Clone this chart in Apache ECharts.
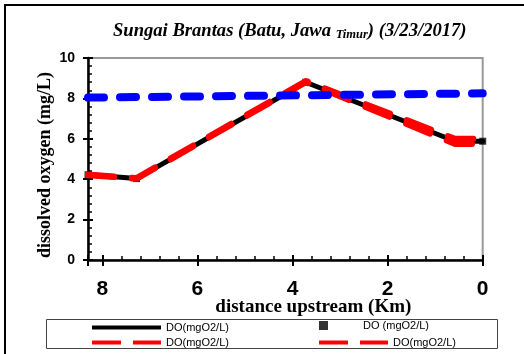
<!DOCTYPE html>
<html>
<head>
<meta charset="utf-8">
<style>html,body{margin:0;padding:0;background:#fff;}#c{width:524px;height:354px;}</style>
<script src="https://cdn.jsdelivr.net/npm/echarts@6/dist/echarts.min.js"></script>
</head>
<body>
<div id="c"></div>
<script>
// distance upstream (km) of each vertex
const distance = [8.3, 7.28, 3.72, 0.58, 0];
// DO values (mg/L)
const doBlack = [4.22, 4.03, 8.8, 5.88, 5.88];
const doRed1 = [4.23, 4.06, 8.86, 6.0, 6.0];
const doRed2 = [4.2, 4.02, 8.8, 5.74, 5.74];
const blueDist = [8.3, 0];
const blueVals = [8.04, 8.25];
const xTicks = [0, 2, 4, 6, 8];

const names = ['DO(mgO2/L)', 'DO (mgO2/L)', 'DO(mgO2/L) ', 'DO(mgO2/L)  '];
const pairs = (xs, ys) => xs.map((x, i) => [x, ys[i]]);

const chart = echarts.init(document.getElementById('c'));
const serif = "'Liberation Serif', 'Times New Roman', serif";
const sans = "'Liberation Sans', Arial, sans-serif";
const legendText = {fontFamily: sans, fontSize: 11, color: '#000'};
const solidIcon = 'path://M0,0L69,0L69,4L0,4Z';
const dashIcon = 'path://M0,0L29,0L29,4L0,4Z M41,0L69,0L69,4L41,4Z';
function mkLegend(name, left, top, extra) {
  return Object.assign({
    data: [name], left: left, top: top, padding: 0, itemWidth: 69, itemHeight: 4,
    textStyle: legendText, selectedMode: false, symbolKeepAspect: false
  }, extra);
}
const gridBox = {left: 88, right: 41.3, top: 58, bottom: 94};
chart.setOption({
  animation: false,
  title: {
    text: '{a|Sungai Brantas (Batu, Jawa }{b|Timur}{a|) (3/23/2017)}',
    left: 113, top: 22, padding: 0,
    textStyle: {
      rich: {
        a: {fontFamily: serif, fontSize: 18.6, fontWeight: 'bold', fontStyle: 'italic', color: '#000'},
        b: {fontFamily: serif, fontSize: 12.5, fontWeight: 'bold', fontStyle: 'italic', color: '#000', verticalAlign: 'bottom', padding: [4, 0, 0, 0]}
      }
    }
  },
  graphic: [
    {type: 'rect', shape: {x: 5, y: 5, width: 540, height: 380}, style: {fill: 'none', stroke: '#000', lineWidth: 2}, silent: true},
    {type: 'rect', shape: {x: 46.5, y: 319.5, width: 451, height: 29}, style: {fill: 'none', stroke: '#444', lineWidth: 1}, silent: true}
  ],
  legend: [
    mkLegend(names[0], 92, 322, {icon: solidIcon, itemStyle: {color: '#000'}}),
    mkLegend(names[1], 319, 320, {icon: 'path://M0,0L10,0L10,10L0,10Z', itemHeight: 9, symbolKeepAspect: true, itemStyle: {color: '#000'}}),
    mkLegend(names[2], 92, 337, {icon: dashIcon, itemStyle: {color: '#f00'}}),
    mkLegend(names[3], 319, 337, {icon: dashIcon, itemStyle: {color: '#f00'}})
  ],
  grid: [
    Object.assign({show: true, borderColor: '#999', borderWidth: 2, backgroundColor: '#fff'}, gridBox),
    Object.assign({show: false}, gridBox)
  ],
  xAxis: [
    {
      gridIndex: 0, type: 'value', inverse: true, min: 0, max: 8.3, interval: 2, position: 'bottom',
      axisLine: {show: true, onZero: false, lineStyle: {color: '#000', width: 2.5}},
      axisTick: {show: true, inside: false, length: 6, lineStyle: {color: '#000', width: 2}},
      splitLine: {show: false},
      axisLabel: {
        margin: 19, fontFamily: "'Liberation Sans Narrow', 'Liberation Sans', Arial, sans-serif",
        fontWeight: 'bold', fontSize: 21, color: '#000',
        customValues: xTicks
      },
      name: 'distance upstream (Km)', nameLocation: 'middle', nameGap: 38, nameMoveOverlap: false,
      nameTextStyle: {fontFamily: serif, fontWeight: 'bold', fontSize: 19, color: '#000', padding: [0, 0, 0, 56]}
    },
    {
      gridIndex: 1, type: 'value', inverse: true, min: 0, max: 8.3, interval: 2, position: 'bottom',
      axisLine: {show: false, onZero: false},
      axisTick: {show: true, inside: true, length: 5, lineStyle: {color: '#000', width: 2}},
      minorTick: {show: true, splitNumber: 5, length: 4, lineStyle: {color: '#000', width: 1.5}},
      splitLine: {show: false},
      axisLabel: {show: false}
    }
  ],
  yAxis: [
    {
      gridIndex: 0, type: 'value', min: 0, max: 10, interval: 2, position: 'left',
      axisLine: {show: true, onZero: false, lineStyle: {color: '#000', width: 2.5}},
      axisTick: {show: true, inside: false, length: 5, lineStyle: {color: '#000', width: 2}},
      splitLine: {show: false},
      axisLabel: {margin: 13, fontFamily: sans, fontWeight: 'bold', fontSize: 14, color: '#000'},
      name: 'dissolved oxygen (mg/L)', nameLocation: 'middle', nameGap: 34, nameRotate: 90, nameMoveOverlap: false,
      nameTextStyle: {fontFamily: serif, fontWeight: 'bold', fontSize: 18, color: '#000', padding: [0, 12, 0, 0]}
    },
    {
      gridIndex: 1, type: 'value', min: 0, max: 10, interval: 2, position: 'left',
      axisLine: {show: false, onZero: false},
      axisTick: {show: true, inside: true, length: 5, lineStyle: {color: '#000', width: 2}},
      minorTick: {show: true, splitNumber: 5, length: 4, lineStyle: {color: '#000', width: 1.5}},
      splitLine: {show: false},
      axisLabel: {show: false}
    }
  ],
  series: [
    {name: names[0], type: 'line', data: pairs(distance, doBlack), symbol: 'none', z: 2,
     lineStyle: {color: '#000', width: 5, cap: 'round', join: 'round'}, itemStyle: {color: '#000'}},
    {name: names[1], type: 'scatter', data: pairs(distance, doBlack), symbol: 'rect', symbolSize: 7, z: 2,
     itemStyle: {color: '#000'}},
    {name: names[2], type: 'line', data: pairs(distance, doRed1), symbol: 'none', z: 3,
     lineStyle: {color: '#f00', width: 6, type: [26, 18], cap: 'round', join: 'round'}, itemStyle: {color: '#f00'}},
    {name: names[3], type: 'line', data: pairs(distance, doRed2), symbol: 'none', z: 3,
     lineStyle: {color: '#f00', width: 6, type: [26, 18], cap: 'round', join: 'round'}, itemStyle: {color: '#f00'}},
    {name: 'DO standard', type: 'line', data: pairs(blueDist, blueVals), symbol: 'none', z: 4,
     lineStyle: {color: '#0000ff', width: 8, type: [16, 16], cap: 'round'}, itemStyle: {color: '#0000ff'}}
  ]
});
</script>
</body>
</html>
